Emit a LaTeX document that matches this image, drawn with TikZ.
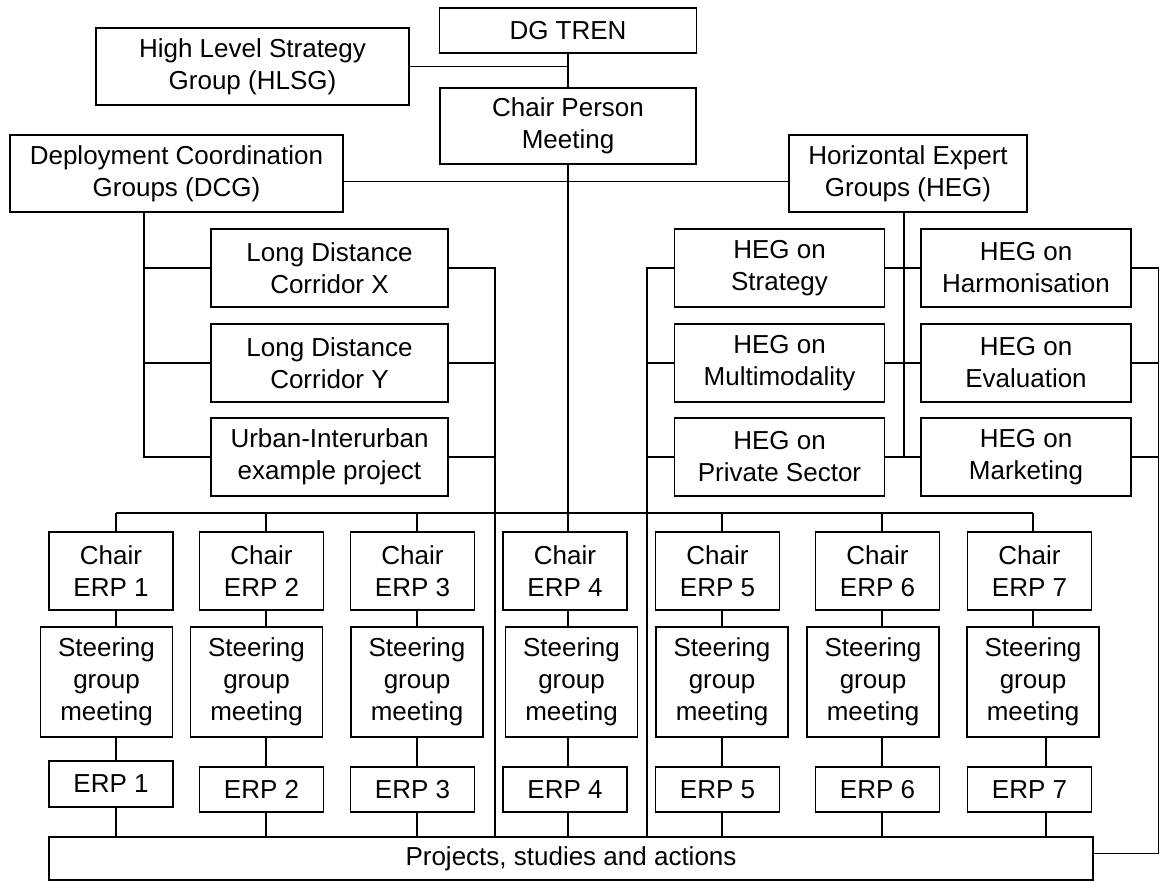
\documentclass[tikz,border=0pt]{standalone}
\usepackage{fontspec}
\setmainfont{Liberation Sans}

\begin{document}
\begin{tikzpicture}[x=1pt,y=-1pt,
        box/.style={draw, line width=1.6pt, align=center, inner sep=0pt,
            font=\fontsize{26}{32}\selectfont},
        wide/.style={box, minimum width=237pt, minimum height=78pt},
        hegbox/.style={box, minimum width=210pt, minimum height=78pt},
        chairbox/.style={box, minimum width=124pt, minimum height=78pt},
        steerbox/.style={box, minimum width=132pt, minimum height=110pt},
        erpbox/.style={box, minimum width=124pt, minimum height=45pt},
        link/.style={line width=1.5pt}]
    \useasboundingbox (0,0) rectangle (1160,882);

    %%top
    \node[box, minimum width=257pt, minimum height=45pt] (dgtren) at (568,30.5) {DG TREN};
    \node[box, minimum width=313pt, minimum height=77pt] (hlsg) at (252.5,66.5) {High Level Strategy\\Group (HLSG)};
    \node[box, minimum width=256pt, minimum height=76pt] (cpm) at (568,126) {Chair Person\\Meeting};
    \node[box, minimum width=333pt, minimum height=77pt] (dcg) at (176.5,173.5) {Deployment Coordination\\Groups (DCG)};
    \node[box, minimum width=238pt, minimum height=77pt] (heg) at (908,173.5) {Horizontal Expert\\Groups (HEG)};

    %%deployment groups
    \node[wide] (ldcx) at (329.5,268) {Long Distance\\Corridor X};
    \node[wide] (ldcy) at (329.5,363) {Long Distance\\Corridor Y};
    \node[wide] (urban) at (329.5,457) {Urban-Interurban\\example project};

    %%expert groups
    \node[hegbox] (hegstrat) at (779.5,268) {HEG on\\Strategy};
    \node[hegbox] (hegmulti) at (779.5,363) {HEG on\\Multimodality};
    \node[hegbox] (hegpriv) at (779.5,457) {HEG on\\Private Sector};
    \node[hegbox] (hegharm) at (1026,268) {HEG on\\Harmonisation};
    \node[hegbox] (hegeval) at (1026,363) {HEG on\\Evaluation};
    \node[hegbox] (hegmark) at (1026,457) {HEG on\\Marketing};

    %%ERP columns
    \node[chairbox] (chair1) at (111,571) {Chair\\ERP 1};
    \node[chairbox] (chair2) at (261.5,571) {Chair\\ERP 2};
    \node[chairbox] (chair3) at (412.5,571) {Chair\\ERP 3};
    \node[chairbox] (chair4) at (565,571) {Chair\\ERP 4};
    \node[chairbox] (chair5) at (717.5,571) {Chair\\ERP 5};
    \node[chairbox] (chair6) at (877.5,571) {Chair\\ERP 6};
    \node[chairbox] (chair7) at (1029.5,571) {Chair\\ERP 7};

    \node[steerbox] (steer1) at (106.5,682) {Steering\\group\\meeting};
    \node[steerbox] (steer2) at (256.5,682) {Steering\\group\\meeting};
    \node[steerbox] (steer3) at (417,682) {Steering\\group\\meeting};
    \node[steerbox] (steer4) at (571.5,682) {Steering\\group\\meeting};
    \node[steerbox] (steer5) at (722,682) {Steering\\group\\meeting};
    \node[steerbox] (steer6) at (873,682) {Steering\\group\\meeting};
    \node[steerbox] (steer7) at (1033,682) {Steering\\group\\meeting};

    \node[erpbox, minimum height=46pt] (erp1) at (111,784) {ERP 1};
    \node[erpbox] (erp2) at (261.5,789.5) {ERP 2};
    \node[erpbox] (erp3) at (412.5,789.5) {ERP 3};
    \node[erpbox] (erp4) at (565,789.5) {ERP 4};
    \node[erpbox] (erp5) at (717.5,789.5) {ERP 5};
    \node[erpbox] (erp6) at (877.5,789.5) {ERP 6};
    \node[erpbox] (erp7) at (1029.5,789.5) {ERP 7};

    \node[box, minimum width=1044pt, minimum height=43pt] (projects) at (571,858.5) {Projects, studies and actions};

    %%columns of the lines
    \coordinate (bus1) at (116,513);
    \coordinate (bus2) at (266,513);
    \coordinate (bus3) at (417,513);
    \coordinate (bus4) at (568,513);
    \coordinate (bus5) at (722,513);
    \coordinate (bus6) at (882,513);
    \coordinate (bus7) at (1033,513);
    \coordinate (low7) at (1046,0);
    \coordinate (ldcleft) at (144,0);
    \coordinate (ldcright) at (495,0);
    \coordinate (hegleft) at (647,0);
    \coordinate (hegmid) at (904,0);
    \coordinate (hegright) at (1158.5,0);
    \coordinate (projtail) at ([yshift=5pt]projects.east);

    %%top lines
    \draw[link] (dgtren.south) -- (cpm.north);
    \draw[link] (hlsg.east) -- (hlsg.east -| dgtren.south);
    \draw[link] (cpm.south) -- (bus4 |- chair4.north);
    \draw[link] ([yshift=-8pt]dcg.east) -- ([yshift=-8pt]heg.west);

    %%left bracket
    \draw[link] (ldcleft |- dcg.south) -- (ldcleft |- urban.west) -- (urban.west);
    \draw[link] (ldcleft |- ldcx.west) -- (ldcx.west);
    \draw[link] (ldcleft |- ldcy.west) -- (ldcy.west);
    \draw[link] (ldcx.east) -- (ldcright |- ldcx.east) -- (ldcright |- projects.north);
    \draw[link] (ldcy.east) -- (ldcright |- ldcy.east);
    \draw[link] (urban.east) -- (ldcright |- urban.east);

    %%expert group lines
    \draw[link] (hegmid |- heg.south) -- (hegmid |- hegpriv.east);
    \draw[link] (hegstrat.east) -- (hegharm.west);
    \draw[link] (hegmulti.east) -- (hegeval.west);
    \draw[link] (hegpriv.east) -- (hegmark.west);
    \draw[link] (hegstrat.west) -- (hegleft |- hegstrat.west) -- (hegleft |- projects.north);
    \draw[link] (hegmulti.west) -- (hegleft |- hegmulti.west);
    \draw[link] (hegpriv.west) -- (hegleft |- hegpriv.west);
    \draw[link] (hegharm.east) -- (hegright |- hegharm.east) -- (hegright |- projtail) -- (projtail);
    \draw[link] (hegeval.east) -- (hegright |- hegeval.east);
    \draw[link] (hegmark.east) -- (hegright |- hegmark.east);

    %%bus and columns
    \draw[link] (bus1) -- (bus7);
    \draw[link] (bus1) -- (bus1 |- chair1.north);
    \draw[link] (bus2) -- (bus2 |- chair2.north);
    \draw[link] (bus3) -- (bus3 |- chair3.north);
    \draw[link] (bus5) -- (bus5 |- chair5.north);
    \draw[link] (bus6) -- (bus6 |- chair6.north);
    \draw[link] (bus7) -- (bus7 |- chair7.north);

    \draw[link] (bus1 |- chair1.south) -- (bus1 |- steer1.north);
    \draw[link] (bus2 |- chair2.south) -- (bus2 |- steer2.north);
    \draw[link] (bus3 |- chair3.south) -- (bus3 |- steer3.north);
    \draw[link] (bus4 |- chair4.south) -- (bus4 |- steer4.north);
    \draw[link] (bus5 |- chair5.south) -- (bus5 |- steer5.north);
    \draw[link] (bus6 |- chair6.south) -- (bus6 |- steer6.north);
    \draw[link] (bus7 |- chair7.south) -- (bus7 |- steer7.north);

    \draw[link] (bus1 |- steer1.south) -- (bus1 |- erp1.north);
    \draw[link] (bus2 |- steer2.south) -- (bus2 |- erp2.north);
    \draw[link] (bus3 |- steer3.south) -- (bus3 |- erp3.north);
    \draw[link] (bus4 |- steer4.south) -- (bus4 |- erp4.north);
    \draw[link] (bus5 |- steer5.south) -- (bus5 |- erp5.north);
    \draw[link] (bus6 |- steer6.south) -- (bus6 |- erp6.north);
    \draw[link] (low7 |- steer7.south) -- (low7 |- erp7.north);

    \draw[link] (bus1 |- erp1.south) -- (bus1 |- projects.north);
    \draw[link] (bus2 |- erp2.south) -- (bus2 |- projects.north);
    \draw[link] (bus3 |- erp3.south) -- (bus3 |- projects.north);
    \draw[link] (bus4 |- erp4.south) -- (bus4 |- projects.north);
    \draw[link] (bus5 |- erp5.south) -- (bus5 |- projects.north);
    \draw[link] (bus6 |- erp6.south) -- (bus6 |- projects.north);
    \draw[link] (low7 |- erp7.south) -- (low7 |- projects.north);
\end{tikzpicture}
\end{document}
